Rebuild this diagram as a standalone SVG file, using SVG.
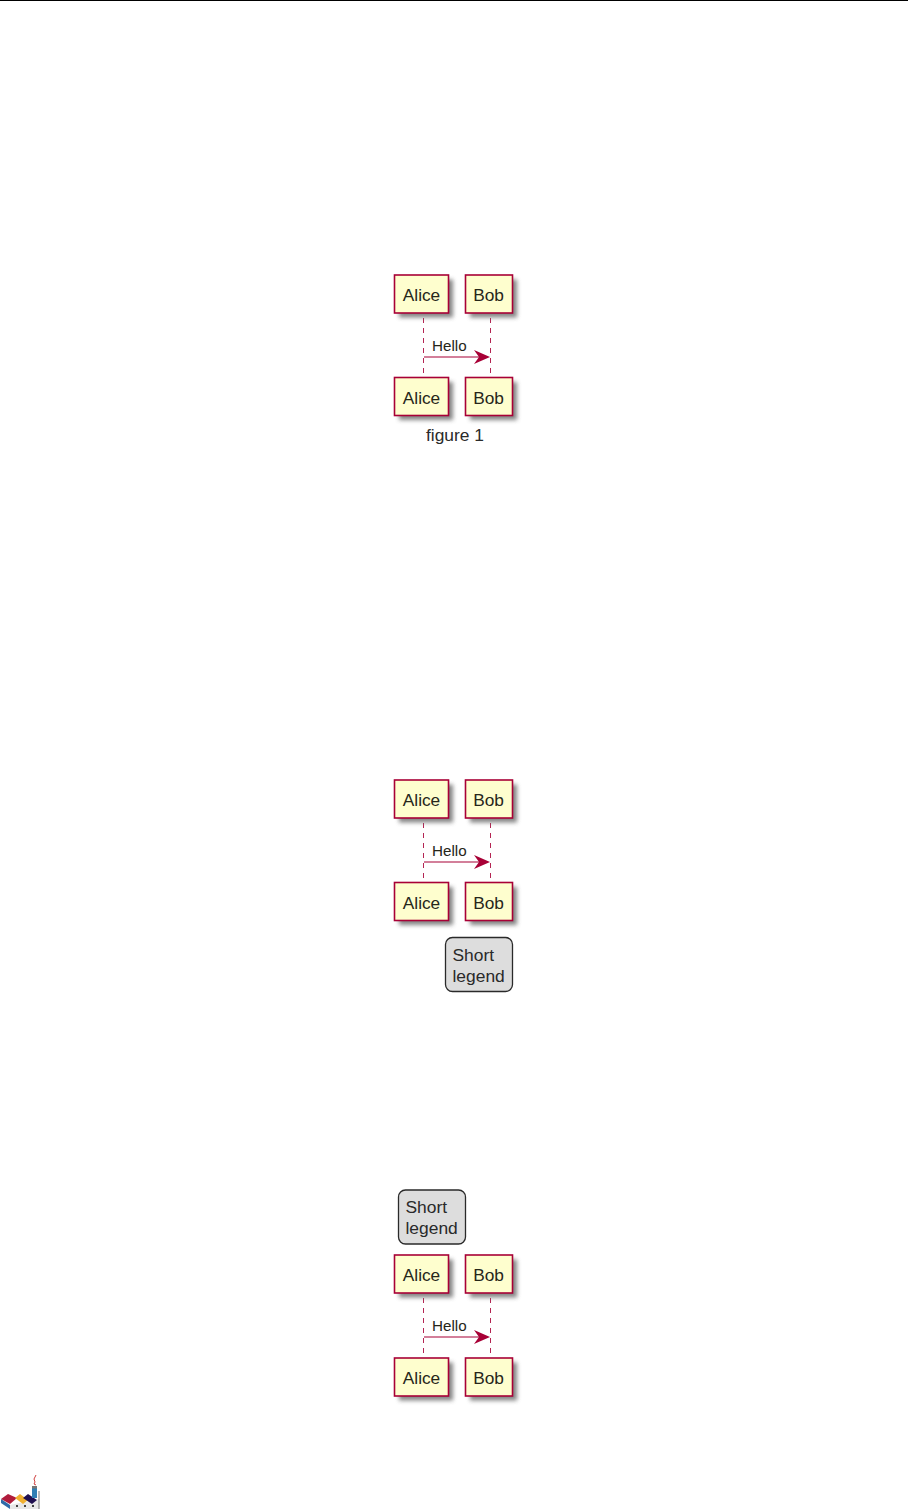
<svg xmlns="http://www.w3.org/2000/svg" width="908" height="1510" viewBox="0 0 908 1510">
<style>
.t{font-family:"Liberation Sans",Arial,sans-serif;font-size:17.3px;fill:#26261a}
.h{font-size:15.2px}
.box{fill:#fefece;stroke:#a80036;stroke-width:1.6}
.life{stroke:#a80036;stroke-width:1;stroke-dasharray:5 5;opacity:.85}
.msg{stroke:#a80036;stroke-width:1.1;fill:none}
.leg{fill:#dddddd;stroke:#2a2a2a;stroke-width:1.3}
.lt{font-family:"Liberation Sans",Arial,sans-serif;font-size:17.4px;fill:#2a2a2a}
</style>
<defs>
<filter id="sh" x="-20%" y="-20%" width="150%" height="150%"><feGaussianBlur stdDeviation="2.2"/></filter>
<g id="alice"><rect x="4.500" y="4.500" width="54" height="38" fill="#666" opacity=".8" filter="url(#sh)"/><rect class="box" width="54" height="38"/><text class="t" x="27" y="26" text-anchor="middle">Alice</text></g>
<g id="bob"><rect x="4.500" y="4.500" width="47" height="38" fill="#666" opacity=".8" filter="url(#sh)"/><rect class="box" width="47" height="38"/><text class="t" x="23" y="26" text-anchor="middle">Bob</text></g>
<g id="arrowHead"><path d="M490 357l-16-7 5 7-5 7z" fill="#a80036"/></g>
</defs>
<rect width="908" height="1510" fill="#fff"/>
<rect id="topRule" x="0" y="0" width="908" height="1" fill="#000"/>

<g id="connectors">
<g><path class="life" d="M423.500 318V373M490.500 318V373"/><path class="msg" d="M424 357H488"/><use href="#arrowHead"/></g>
<g transform="translate(0 505)"><path class="life" d="M423.500 318V373M490.500 318V373"/><path class="msg" d="M424 357H488"/><use href="#arrowHead"/></g>
<g transform="translate(0 980)"><path class="life" d="M423.500 318V373M490.500 318V373"/><path class="msg" d="M424 357H488"/><use href="#arrowHead"/></g>
</g>

<g id="fig1">
<use id="a1t" href="#alice" x="394.500" y="275"/><use id="b1t" href="#bob" x="465.500" y="275"/>
<text class="t h" x="432" y="351">Hello</text>
<use id="a1b" href="#alice" x="394.500" y="377.500"/><use id="b1b" href="#bob" x="465.500" y="377.500"/>
<text class="lt" x="455" y="440.500" text-anchor="middle">figure 1</text>
</g>

<g id="fig2">
<use id="a2t" href="#alice" x="394.500" y="780"/><use id="b2t" href="#bob" x="465.500" y="780"/>
<text class="t h" x="432" y="856">Hello</text>
<use id="a2b" href="#alice" x="394.500" y="882.500"/><use id="b2b" href="#bob" x="465.500" y="882.500"/>
<g id="legend1"><rect class="leg" x="445.500" y="937.500" width="67" height="54" rx="7"/><text class="lt" x="452.500" y="960.500">Short</text><text class="lt" x="452.500" y="982">legend</text></g>
</g>

<g id="fig3">
<g id="legend2"><rect class="leg" x="398.500" y="1190" width="67" height="54" rx="7"/><text class="lt" x="405.500" y="1213">Short</text><text class="lt" x="405.500" y="1234">legend</text></g>
<use id="a3t" href="#alice" x="394.500" y="1255"/><use id="b3t" href="#bob" x="465.500" y="1255"/>
<text class="t h" x="432" y="1331">Hello</text>
<use id="a3b" href="#alice" x="394.500" y="1358"/><use id="b3b" href="#bob" x="465.500" y="1358"/>
</g>

<g id="logo">
<path d="M1 1499l9 6v4l-9-6z" fill="#2f6aa8"/>
<path d="M10 1505l29-6v10H10z" fill="#e8e8e8"/>
<path d="M1 1499l7-5 9 4-7 6z" fill="#b01c3c"/>
<path d="M15 1498l5-4 8 6-5 4z" fill="#f0b030"/>
<path d="M23 1498l5-4 9 6-5 4z" fill="#201050"/>
<rect x="32" y="1487" width="5" height="11" fill="#2f7fb5"/>
<rect x="32" y="1486" width="5" height="2.500" fill="#777"/>
<path d="M39 1491v18" stroke="#777" stroke-width="1"/>
<path d="M36 1475l-2 4 1 3-1 2 2 1" fill="none" stroke="#d04040" stroke-width="1"/>
<path d="M16 1506h2M24 1506h2M32 1506h2" stroke="#444" stroke-width="2"/>
</g>
</svg>
